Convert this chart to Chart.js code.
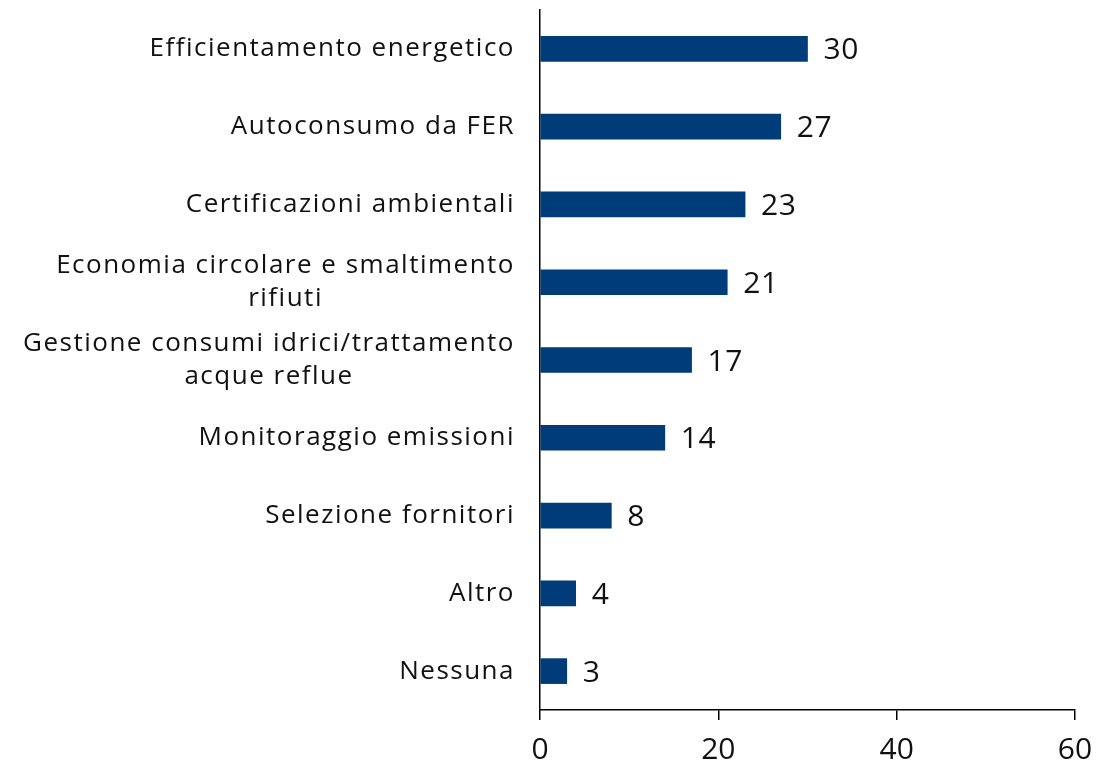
<!DOCTYPE html>
<html>
<head>
<meta charset="utf-8">
<script src="https://cdn.jsdelivr.net/npm/chart.js@4.4.1/dist/chart.umd.min.js"></script>
<style>
    html, body { margin: 0; padding: 0; background: #fff; }
    #wrap { width: 1119px; height: 766px; }
</style>
</head>
<body>
<div id="wrap"><canvas id="barChart" width="1119" height="766"></canvas></div>
<script>
// ===== Data =====
const categories = [
    ['Efficientamento energetico'],
    ['Autoconsumo da FER'],
    ['Certificazioni ambientali'],
    ['Economia circolare e smaltimento', 'rifiuti'],
    ['Gestione consumi idrici/trattamento', 'acque reflue'],
    ['Monitoraggio emissioni'],
    ['Selezione fornitori'],
    ['Altro'],
    ['Nessuna']
];
const values = [30, 27, 23, 21, 17, 14, 8, 4, 3];
const xTicks = [0, 20, 40, 60];

const FONT = "'Open Sans', 'DejaVu Sans', sans-serif";
const BAR_COLOR = '#003b7a';
const TEXT_COLOR = '#111';

// Category labels: single lines right aligned, wrapped lines centred on their block
const categoryLabels = {
    id: 'categoryLabels',
    afterDraw(chart) {
        const ctx = chart.ctx;
        const yScale = chart.scales.y;
        const rightEdge = chart.chartArea.left - 25;
        const lineH = 33;
        ctx.save();
        ctx.font = '26px ' + FONT;
        ctx.letterSpacing = '1.5px';
        ctx.fillStyle = TEXT_COLOR;
        ctx.textBaseline = 'middle';
        categories.forEach((lines, i) => {
            const cy = yScale.getPixelForTick(i);
            const widest = Math.max(...lines.map(l => ctx.measureText(l).width));
            const startY = cy - (lines.length - 1) * lineH / 2;
            lines.forEach((line, j) => {
                if (lines.length === 1) {
                    ctx.textAlign = 'right';
                    ctx.fillText(line, rightEdge, startY);
                } else {
                    ctx.textAlign = 'center';
                    ctx.fillText(line, rightEdge - widest / 2, startY + j * lineH);
                }
            });
        });
        ctx.restore();
    }
};

// Value labels at the end of each bar
const valueLabels = {
    id: 'valueLabels',
    afterDatasetsDraw(chart) {
        const ctx = chart.ctx;
        const meta = chart.getDatasetMeta(0);
        ctx.save();
        ctx.font = '30px ' + FONT;
        ctx.letterSpacing = '0.5px';
        ctx.fillStyle = TEXT_COLOR;
        ctx.textAlign = 'left';
        ctx.textBaseline = 'middle';
        meta.data.forEach((bar, i) => {
            ctx.fillText(String(values[i]), bar.x + 16, bar.y + 2);
        });
        ctx.restore();
    }
};

new Chart(document.getElementById('barChart').getContext('2d'), {
    type: 'bar',
    data: {
        labels: categories.map(l => l.join(' ')),
        datasets: [{
            data: values,
            backgroundColor: BAR_COLOR,
            barThickness: 25,
            borderWidth: 0
        }]
    },
    options: {
        indexAxis: 'y',
        responsive: false,
        animation: false,
        layout: {
            padding: { left: 540, right: 44, top: 10, bottom: -14 }
        },
        plugins: {
            legend: { display: false },
            tooltip: { enabled: false }
        },
        scales: {
            x: {
                min: 0,
                max: 60,
                afterBuildTicks(scale) {
                    scale.ticks = xTicks.map(v => ({ value: v }));
                },
                border: { display: true, color: '#000', width: 1.5 },
                grid: {
                    drawOnChartArea: false,
                    drawTicks: true,
                    tickLength: 10,
                    color: '#000',
                    lineWidth: 1.5
                },
                ticks: {
                    padding: 12,
                    color: TEXT_COLOR,
                    font: { family: FONT, size: 30 }
                }
            },
            y: {
                border: { display: true, color: '#000', width: 1.5 },
                grid: { display: false, drawTicks: false },
                ticks: { display: false }
            }
        }
    },
    plugins: [categoryLabels, valueLabels]
});
</script>
</body>
</html>
